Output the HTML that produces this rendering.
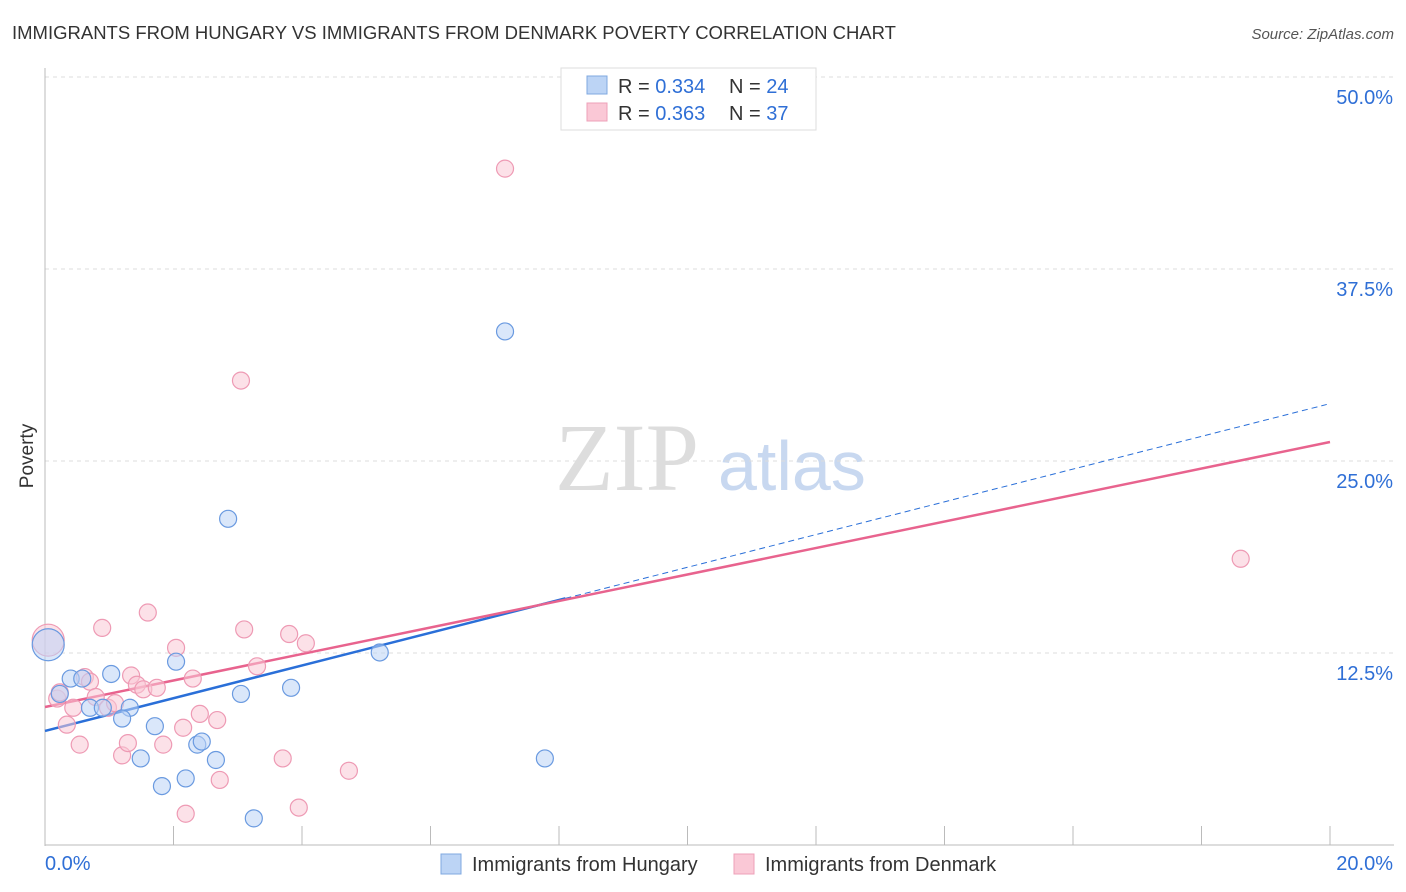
<!DOCTYPE html>
<html><head><meta charset="utf-8"><style>
body{margin:0;background:#fff;font-family:"Liberation Sans",sans-serif;}
svg{display:block}
</style></head><body>
<svg id="c" width="1406" height="892" xmlns="http://www.w3.org/2000/svg">
<text x="12" y="39" font-size="18.5" fill="#333">IMMIGRANTS FROM HUNGARY VS IMMIGRANTS FROM DENMARK POVERTY CORRELATION CHART</text>
<text x="1394" y="39" font-size="15" fill="#555" font-style="italic" text-anchor="end">Source: ZipAtlas.com</text>
<text x="33" y="456" font-size="19" fill="#333" transform="rotate(-90 33 456)" text-anchor="middle">Poverty</text>
<g><text x="555" y="490" font-family="Liberation Serif,serif" font-size="96" fill="#ddd">ZIP</text><text x="718" y="490" font-size="70" fill="#c8d8f0">atlas</text></g>
<g id="grid"></g><g id="lines"></g><g id="pts"></g>
<g>
<rect x="561" y="68" width="255" height="62" fill="#fff" stroke="#ddd"/>
<rect x="587" y="76" width="20" height="18" fill="#bcd4f5" stroke="#7fa8e0"/>
<rect x="587" y="103" width="20" height="18" fill="#fac8d6" stroke="#eea0b8"/>
<text x="618" y="93" font-size="20" fill="#333">R = <tspan fill="#2f6fd6">0.334</tspan></text>
<text x="729" y="93" font-size="20" fill="#333">N = <tspan fill="#2f6fd6">24</tspan></text>
<text x="618" y="120" font-size="20" fill="#333">R = <tspan fill="#2f6fd6">0.363</tspan></text>
<text x="729" y="120" font-size="20" fill="#333">N = <tspan fill="#2f6fd6">37</tspan></text>
</g>
<g>
<rect x="441" y="854" width="20" height="20" fill="#bcd4f5" stroke="#7fa8e0"/>
<text x="472" y="871" font-size="20" fill="#333">Immigrants from Hungary</text>
<rect x="734" y="854" width="20" height="20" fill="#fac8d6" stroke="#eea0b8"/>
<text x="765" y="871" font-size="20" fill="#333">Immigrants from Denmark</text>
</g>
</svg>
<script>
const yTicks=[12.5,25,37.5,50];
const yTickLabels=["12.5%","25.0%","37.5%","50.0%"];
const xLabels=["0.0%","20.0%"];
const hungaryX=[0.05,0.23,0.40,0.58,1.03,0.70,0.90,1.32,1.20,1.71,1.49,2.04,1.82,2.19,2.37,2.44,2.66,2.85,3.05,3.25,3.83,5.21,7.16,7.78];
const hungaryY=[13.1,9.9,10.9,10.9,11.2,9.0,9.0,9.0,8.3,7.8,5.7,12.0,3.9,4.4,6.6,6.8,5.6,21.3,9.9,1.8,10.3,12.6,33.5,5.7];
const denmarkX=[0.05,0.19,0.34,0.44,0.54,0.62,0.70,0.79,0.89,0.98,1.09,1.20,1.29,1.34,1.43,1.53,1.60,1.74,1.84,2.04,2.15,2.30,2.41,2.19,2.68,2.72,3.05,3.10,3.30,3.70,3.80,3.95,4.06,4.73,7.16,18.61,0.23];
const denmarkY=[13.4,9.6,7.9,9.0,6.6,11.0,10.7,9.7,14.2,9.0,9.3,5.9,6.7,11.1,10.5,10.2,15.2,10.3,6.6,12.9,7.7,10.9,8.6,2.1,8.2,4.3,30.3,14.1,11.7,5.7,13.8,2.5,13.2,4.9,44.1,18.7,10.0];
const hungaryTrend=[7.49,28.8];const denmarkTrend=[9.05,26.3];
const NS="http://www.w3.org/2000/svg";
const X=v=>45+v*64.25, Y=v=>846-v*15.36;
function mk(t,a,p){const e=document.createElementNS(NS,t);for(const k in a)e.setAttribute(k,a[k]);p.appendChild(e);return e;}
const g=document.getElementById('grid');
yTicks.forEach((t,i)=>{
 const l=mk('line',{x1:45,x2:1394,y1:Y(t)-1,y2:Y(t)-1,stroke:'#ddd','stroke-dasharray':'4,4'},g);
 
 
 const tx=mk('text',{x:1393,y:Y(t)+26,'font-size':20,fill:'#2f6fd6','text-anchor':'end'},g);tx.textContent=yTickLabels[i];
 
 
});
mk('line',{x1:45,x2:45,y1:68,y2:846,stroke:'#bbb'},g);
mk('line',{x1:45,x2:1394,y1:845,y2:845,stroke:'#bbb'},g);
for(let i=0;i<=10;i++){mk('line',{x1:X(i*2),x2:X(i*2),y1:826,y2:845,stroke:'#bbb'},g);}
xLabels.forEach((s,i)=>{const tx=mk('text',{x:i?1393:45,y:870,'font-size':20,fill:'#2f6fd6','text-anchor':i?'end':'start'},g);tx.textContent=s;
 
 });
const pg=document.getElementById('pts');
function pts(xs,ys,fill,stroke,name){xs.forEach((x,i)=>{const c=mk('circle',{cx:X(x),cy:Y(ys[i]),r:(i==0&&x<0.1)?16:8.5,fill:fill,stroke:stroke,'fill-opacity':0.55,'stroke-width':1.2},pg);
 
 });}
pts(denmarkX,denmarkY,'#fac8d6','#ee9ab4','denmark-point');
pts(hungaryX,hungaryY,'#bcd4f5','#6a9ae0','hungary-point');
const lg=document.getElementById('lines');
const bx=8.1,by=hungaryTrend[0]+(hungaryTrend[1]-hungaryTrend[0])*bx/20;
const b1=mk('line',{x1:X(0),y1:Y(hungaryTrend[0]),x2:X(bx),y2:Y(by),stroke:'#2a6fd8','stroke-width':2.5},lg);


const b2=mk('line',{x1:X(bx),y1:Y(by),x2:X(19.95),y2:Y(hungaryTrend[0]+(hungaryTrend[1]-hungaryTrend[0])*19.95/20),stroke:'#2a6fd8','stroke-width':1,'stroke-dasharray':'6,4'},lg);


const p1=mk('line',{x1:X(0),y1:Y(denmarkTrend[0]),x2:X(20),y2:Y(denmarkTrend[1]),stroke:'#e8638e','stroke-width':2.5},lg);


</script>
</body></html>
